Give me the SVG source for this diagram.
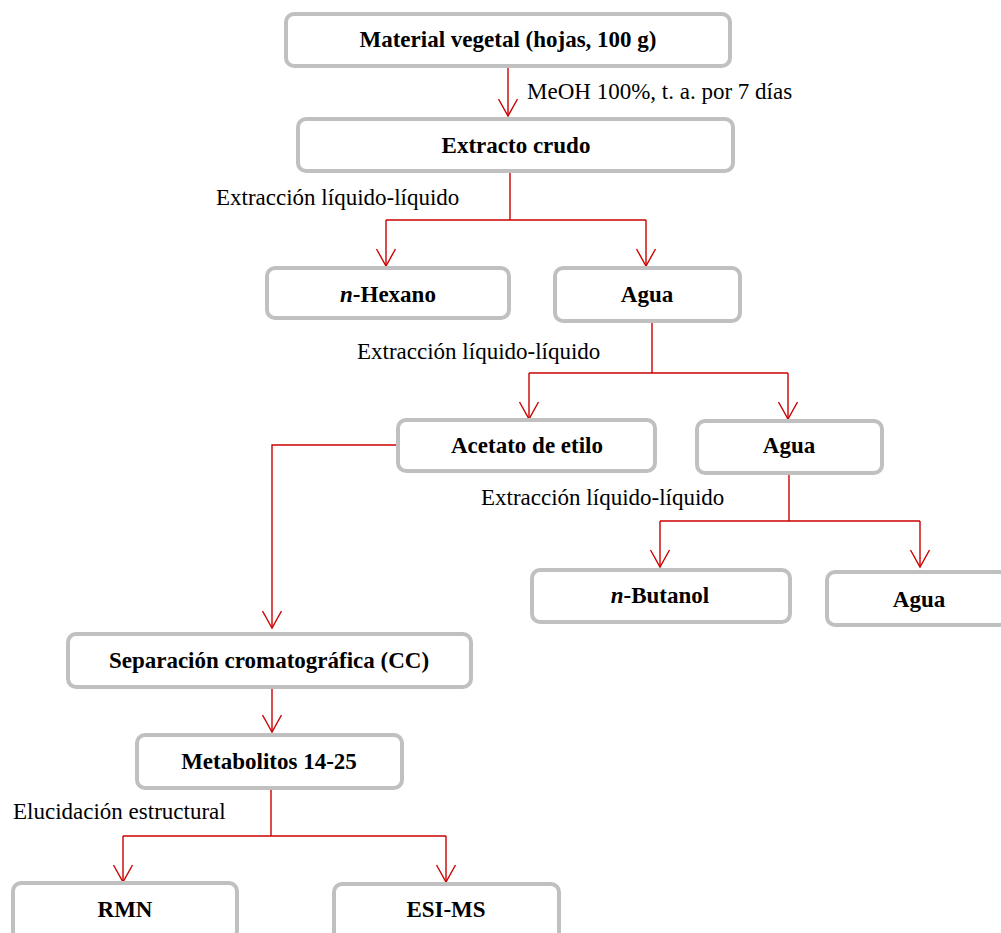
<svg xmlns="http://www.w3.org/2000/svg" width="1001" height="933" viewBox="0 0 1001 933">
<defs>
<style>
.box{fill:#fff;stroke:#c0c0c0;stroke-width:4}
.t{font-family:"Liberation Serif","Times New Roman",serif;font-size:23px;font-weight:bold;fill:#000;text-anchor:middle}
.lbl{font-family:"Liberation Serif","Times New Roman",serif;font-size:23px;fill:#000}
.c{fill:none;stroke:#cc0000;stroke-width:1.4}
.a{marker-end:url(#arr)}
</style>
<marker id="arr" markerUnits="userSpaceOnUse" markerWidth="20" markerHeight="20" viewBox="0 0 20 20" refX="17" refY="9.5" orient="auto" overflow="visible">
<path d="M0,0 L17,9.5 L0,19" fill="none" stroke="#cc0000" stroke-width="1.4"/>
</marker>
</defs>
<rect width="1001" height="933" fill="#fff"/>
<g id="connectors">
<path class="c a" d="M508,68 V116"/>
<path class="c" d="M510,173 V220 M386,220 H646"/>
<path class="c a" d="M386,220 V266"/>
<path class="c a" d="M646,220 V266"/>
<path class="c" d="M652,323 V373 M529,373 H788"/>
<path class="c a" d="M529,373 V419"/>
<path class="c a" d="M788,373 V419"/>
<path class="c a" d="M396,445 H272 V628"/>
<path class="c" d="M789,475 V521 M660,521 H920"/>
<path class="c a" d="M660,521 V567"/>
<path class="c a" d="M920,521 V567"/>
<path class="c a" d="M272,689 V732"/>
<path class="c" d="M271,790 V836 M123,836 H446"/>
<path class="c a" d="M123,836 V882"/>
<path class="c a" d="M446,836 V882"/>
</g>
<g id="labels">
<text class="lbl" x="527" y="99">MeOH 100%, t. a. por 7 días</text>
<text class="lbl" x="216" y="205">Extracción líquido-líquido</text>
<text class="lbl" x="357" y="359">Extracción líquido-líquido</text>
<text class="lbl" x="481" y="505">Extracción líquido-líquido</text>
<text class="lbl" x="13" y="819">Elucidación estructural</text>
</g>
<g id="n1"><rect class="box" x="286" y="14" width="444" height="52" rx="8"/><text class="t" x="508" y="47">Material vegetal (hojas, 100 g)</text></g>
<g id="n2"><rect class="box" x="298" y="119" width="435" height="52" rx="8"/><text class="t" x="516" y="153">Extracto crudo</text></g>
<g id="n3"><rect class="box" x="267" y="268" width="242" height="50" rx="8"/><text class="t" x="388" y="302"><tspan font-style="italic">n</tspan>-Hexano</text></g>
<g id="n4"><rect class="box" x="555" y="268" width="185" height="53" rx="8"/><text class="t" x="647" y="302">Agua</text></g>
<g id="n5"><rect class="box" x="398" y="420" width="257" height="51" rx="8"/><text class="t" x="527" y="453">Acetato de etilo</text></g>
<g id="n6"><rect class="box" x="697" y="421" width="185" height="52" rx="8"/><text class="t" x="789" y="453">Agua</text></g>
<g id="n7"><rect class="box" x="532" y="570" width="258" height="52" rx="8"/><text class="t" x="660" y="603"><tspan font-style="italic">n</tspan>-Butanol</text></g>
<g id="n8"><rect class="box" x="827" y="572" width="180" height="53" rx="8"/><text class="t" x="919" y="607">Agua</text></g>
<g id="n9"><rect class="box" x="68" y="634" width="403" height="53" rx="8"/><text class="t" x="269" y="668">Separación cromatográfica (CC)</text></g>
<g id="n10"><rect class="box" x="137" y="735" width="265" height="53" rx="8"/><text class="t" x="269" y="769">Metabolitos 14-25</text></g>
<g id="n11"><rect class="box" x="13" y="883" width="224" height="56" rx="8"/><text class="t" x="125" y="917">RMN</text></g>
<g id="n12"><rect class="box" x="334" y="884" width="225" height="56" rx="8"/><text class="t" x="446" y="917">ESI-MS</text></g>
</svg>
